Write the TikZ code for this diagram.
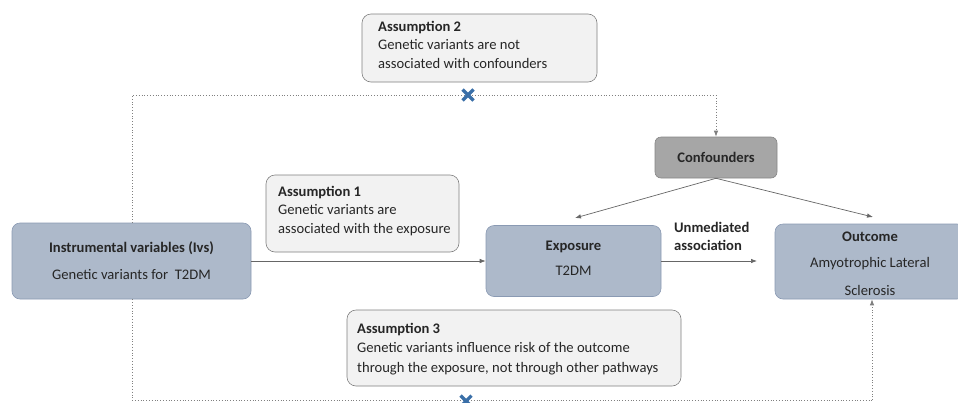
\documentclass[tikz,border=0pt]{standalone}
\usepackage{fontspec}
\setmainfont{Carlito}
\usetikzlibrary{arrows.meta,positioning}
\definecolor{txt}{HTML}{262626}
\definecolor{bluefill}{HTML}{ADB9CA}
\definecolor{blueline}{HTML}{8A9AB3}
\definecolor{assfill}{HTML}{F2F2F2}
\definecolor{assline}{HTML}{7F7F7F}
\definecolor{conffill}{HTML}{A6A6A6}
\definecolor{xblue}{HTML}{3A6FA8}
\tikzset{
  x=1pt,y=-1pt,
  every node/.style={text=txt},
  mainbox/.style={draw=blueline,fill=bluefill,rounded corners=8pt,line width=0.6pt},
  assbox/.style={draw=assline,fill=assfill,rounded corners=9pt,line width=0.6pt},
  confbox/.style={draw=conffill!80!black,fill=conffill,rounded corners=6pt,line width=0.6pt},
  arr/.style={draw=gray!80!black,line width=0.7pt,-{Latex[length=6pt,width=4.5pt]}},
  dotline/.style={draw=gray,dotted,line width=0.8pt},
  dotarr/.style={dotline,-{Latex[length=6pt,width=4.5pt]}},
  xmark/.style={draw=xblue,line width=3.2pt},
  asstext/.style={anchor=north west,align=left,inner sep=0pt,font=\fontsize{14.6}{18.3}\selectfont}
}
\begin{document}
\begin{tikzpicture}[font=\fontsize{14.6}{18}\selectfont]
\useasboundingbox (0,0) rectangle (958,402);
% boxes
\draw[assbox] (362,14) rectangle (597,82);
\node[asstext] (a2) at (378,21) {\textbf{Assumption 2}\\Genetic variants are not\\associated with confounders};

\draw[assbox] (266,175) rectangle (459,252);
\node[asstext] (a1) at (278,186) {\textbf{Assumption 1}\\Genetic variants are\\associated with the exposure};

\draw[assbox] (347,310) rectangle (681,386);
\node[asstext,font=\fontsize{14.6}{19.3}\selectfont] (a3) at (357,323) {\textbf{Assumption 3}\\Genetic variants influence risk of the outcome\\through the exposure, not through other pathways};

\node[confbox,minimum width=122pt,minimum height=41pt] (conf) at (716,157.5) {\textbf{Confounders}};

\node[mainbox,minimum width=239pt,minimum height=76pt] (iv) at (131.5,261) {};
\node (ivt) at (131.5,248) {\textbf{Instrumental variables (Ivs)}};
\node (ivs) at (131.5,275) {Genetic variants for\ \ T2DM};

\node[mainbox,minimum width=175pt,minimum height=71pt] (exp) at (573.5,261) {};
\node (expt) at (573.5,247) {\textbf{Exposure}};
\node (exps) at (573.5,271) {T2DM};

\node[mainbox,minimum width=190pt,minimum height=75pt] (out) at (870,261.5) {};
\node (outt) at (870,237) {\textbf{Outcome}};
\node (outs) at (870,264) {Amyotrophic Lateral};
\node (outs2) at (870,290) {Sclerosis};

% coordinates
\coordinate (tl) at (132,95);
\coordinate (tr) at (716,95);
\coordinate (bl) at (132,400);
\coordinate (br) at (872,400);
\coordinate (ue) at (757,261);

% connectors
\draw[dotline] (iv.north -| tl) -- (tl) -- (tr);
\draw[dotarr] (tr) -- (conf.north);
\draw[dotline] (iv.south -| bl) -- (bl) -- (br);
\draw[dotarr] (br) -- (out.south -| br);

\draw[arr] (conf.south) -- (575,218);
\draw[arr] (conf.south) -- (873,217);
\draw[arr] (iv.east) -- (exp.west |- iv.east);
\draw[arr] (exp.east) -- (ue);
\node[anchor=south west,align=left,inner sep=0pt,font=\fontsize{14.6}{18}\selectfont\bfseries] (um) at (674,251) {Unmediated\\association};

% X marks
\coordinate (x1) at (468,95);
\draw[xmark] ([shift={(-5.5,-5.5)}]x1) -- ([shift={(5.5,5.5)}]x1);
\draw[xmark] ([shift={(-5.5,5.5)}]x1) -- ([shift={(5.5,-5.5)}]x1);
\coordinate (x2) at (466,401);
\draw[xmark] ([shift={(-5.5,-5.5)}]x2) -- ([shift={(5.5,5.5)}]x2);
\draw[xmark] ([shift={(-5.5,5.5)}]x2) -- ([shift={(5.5,-5.5)}]x2);
\end{tikzpicture}
\end{document}
